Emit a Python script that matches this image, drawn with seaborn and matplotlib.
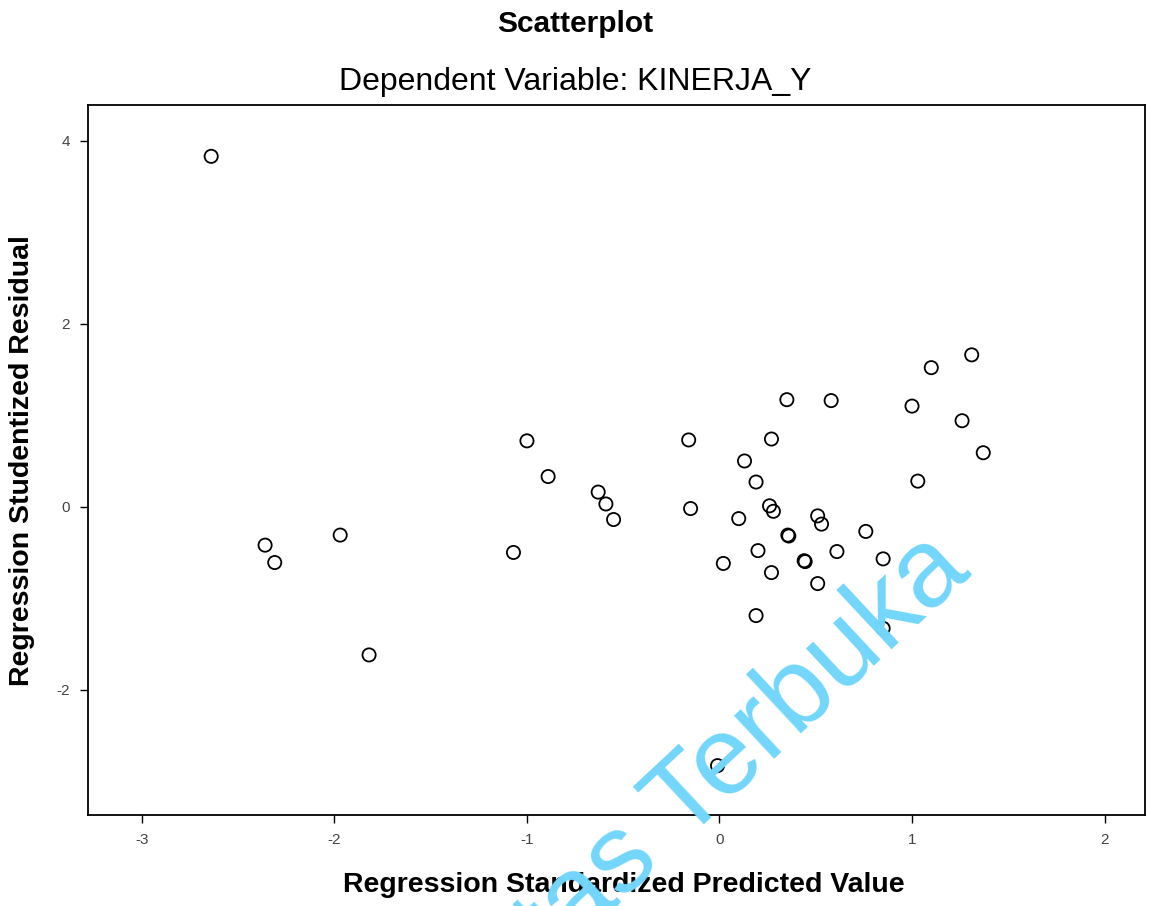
import matplotlib
matplotlib.use("Agg")
import matplotlib.pyplot as plt
import seaborn as sns
import pandas as pd

sns.set_style("white")
plt.rcParams['font.family'] = ['Liberation Sans', 'DejaVu Sans']

# Regression Standardized Predicted Value
pred = [-2.64, -2.36, -2.31, -1.97, -1.82, -1.07, -1.00, -0.89, -0.63, -0.59,
        -0.55, -0.16, -0.15, 0.02, -0.01, 0.35, 0.58, 1.10, 1.31, 1.00,
        1.26, 1.37, 1.03, 0.27, 0.13, 0.19, 0.26, 0.28, 0.10, 0.51,
        0.53, 0.36, 0.20, 0.44, 0.61, 0.76, 0.85, 0.27, 0.51, 0.19,
        0.85, 0.355, 0.445]
# Regression Studentized Residual
resid = [3.83, -0.42, -0.61, -0.31, -1.62, -0.50, 0.72, 0.33, 0.16, 0.03,
         -0.14, 0.73, -0.02, -0.62, -2.83, 1.17, 1.16, 1.52, 1.66, 1.10,
         0.94, 0.59, 0.28, 0.74, 0.50, 0.27, 0.01, -0.05, -0.13, -0.10,
         -0.19, -0.32, -0.48, -0.59, -0.49, -0.27, -0.57, -0.72, -0.84, -1.19,
         -1.33, -0.31, -0.60]

xticks = [-3, -2, -1, 0, 1, 2]
yticks = [-2, 0, 2, 4]

df = pd.DataFrame({"pred": pred, "resid": resid})

fig = plt.figure(figsize=(11.59, 9.06), dpi=100)
ax = fig.add_axes([0.0759, 0.1004, 0.912, 0.7836])

sns.scatterplot(data=df, x="pred", y="resid", ax=ax, s=90, marker="o",
                facecolor="none", edgecolor="black", linewidth=1.3)

ax.set_xlim(-3.28, 2.21)
ax.set_ylim(-3.37, 4.39)
ax.set_xticks(xticks)
ax.set_yticks(yticks)
ax.set_xticklabels([str(t) for t in xticks])
ax.set_yticklabels([str(t) for t in yticks])
ax.tick_params(axis="both", direction="out", length=6, width=1, color="black",
               labelsize=11, labelcolor="#444444", pad=7)
ax.tick_params(axis="x", bottom=True)
ax.tick_params(axis="y", left=True)
for sp in ax.spines.values():
    sp.set_visible(True)
    sp.set_color("black")
    sp.set_linewidth(1.3)

ax.set_xlabel("Regression Standardized Predicted Value", fontsize=20.5,
              fontweight="bold", color="black", va="center")
ax.set_ylabel("Regression Studentized Residual", fontsize=20.5,
              fontweight="bold", color="black", va="center")
ax.xaxis.set_label_coords(0.507, -0.099)
ax.yaxis.set_label_coords(-0.0625, 0.499)

fig.text(0.496, 0.974, "Scatterplot", ha="center", va="center",
         fontsize=21.5, fontweight="bold", color="black")
fig.text(0.496, 0.910, "Dependent Variable: KINERJA_Y", ha="center",
         va="center", fontsize=23, color="black")

# watermark
fig.text(0.839, 0.366, "Universitas Terbuka", ha="right", va="baseline",
         rotation=43, rotation_mode="anchor", fontsize=80,
         color="#72d6fa", zorder=10)

fig.savefig("out.png", dpi=100)
